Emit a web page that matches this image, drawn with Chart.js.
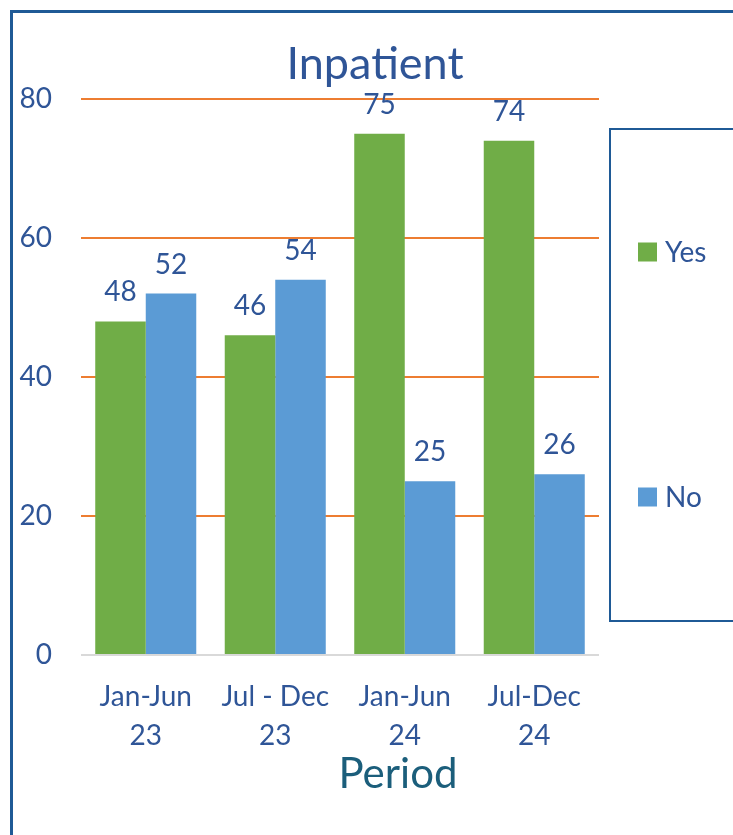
<!DOCTYPE html>
<html><head><meta charset="utf-8">
<script src="https://cdn.jsdelivr.net/npm/chart.js@4.4.1/dist/chart.umd.min.js"></script>
<style>
html,body{margin:0;padding:0;background:#fff;overflow:hidden;width:733px;height:835px}
#frame{position:absolute;left:10px;top:10px;width:800px;height:900px;border-left:3px solid #1F5A96;border-top:3px solid #1F5A96;}
#wrap{position:absolute;left:0;top:0;width:733px;height:835px}
</style></head><body>
<div id="frame"></div>
<div id="wrap"><canvas id="c" width="733" height="835"></canvas></div>
<script>
const categories = [["Jan-Jun","23"],["Jul - Dec","23"],["Jan-Jun","24"],["Jul-Dec","24"]];
const seriesNames = ["Yes","No"];
const yesValues = [48,46,75,74];
const noValues = [52,54,25,26];
const yTicks = [0,20,40,60,80];
const chartTitle = "Inpatient";
const xAxisTitle = "Period";

const TEXT = '#2F5597';
const FONT = 'Lato';

const overlay = {
  id: 'overlay',
  afterDatasetsDraw(chart) {
    const ctx = chart.ctx;
    ctx.save();
    // data labels
    ctx.fillStyle = TEXT;
    ctx.font = '28px ' + FONT;
    ctx.textAlign = 'center';
    ctx.textBaseline = 'alphabetic';
    chart.data.datasets.forEach((ds, di) => {
      chart.getDatasetMeta(di).data.forEach((bar, i) => {
        ctx.fillText(String(ds.data[i]), bar.x, bar.y - 20);
      });
    });
    // title
    ctx.font = '45px ' + FONT;
    ctx.fillText(chartTitle, 375, 79);
    // x axis title
    ctx.fillStyle = '#1B5E7B';
    ctx.font = '42px ' + FONT;
    ctx.fillText(xAxisTitle, 398, 788);
    // legend box
    ctx.strokeStyle = '#1F5A96';
    ctx.lineWidth = 2;
    ctx.strokeRect(610, 129, 140, 492);
    const ys = [252, 497];
    ctx.textAlign = 'left';
    ctx.textBaseline = 'middle';
    ctx.font = '28px ' + FONT;
    chart.data.datasets.forEach((ds, di) => {
      ctx.fillStyle = ds.backgroundColor;
      ctx.fillRect(638, ys[di] - 9.5, 19, 19);
      ctx.fillStyle = TEXT;
      ctx.fillText(ds.label, 665, ys[di] + 1);
    });
    ctx.restore();
  }
};

new Chart(document.getElementById('c'), {
  type: 'bar',
  data: {
    labels: categories,
    datasets: [
      { label: seriesNames[0], data: yesValues, backgroundColor: '#70AD47' },
      { label: seriesNames[1], data: noValues, backgroundColor: '#5B9BD5' }
    ]
  },
  options: {
    responsive: false,
    devicePixelRatio: 1,
    animation: false,
    layout: { padding: { top: 99, right: 134, bottom: 0, left: 0 } },
    datasets: { bar: { categoryPercentage: 0.78, barPercentage: 1.0 } },
    plugins: { legend: { display: false }, title: { display: false }, tooltip: { enabled: false } },
    scales: {
      x: {
        grid: { display: false, drawTicks: false },
        border: { display: false },
        ticks: { color: TEXT, font: { family: FONT, size: 28, lineHeight: 1.393 }, padding: 22, maxRotation: 0, autoSkip: false },
        afterFit(s) { s.height = 180; }
      },
      y: {
        min: 0, max: 80,
        afterBuildTicks(s) { s.ticks = yTicks.map(v => ({ value: v })); },
        grid: {
          drawTicks: false,
          lineWidth: 2,
          color: c => (c.tick && c.tick.value === 0) ? '#D9D9D9' : '#ED7D31'
        },
        border: { display: false },
        ticks: { color: TEXT, font: { family: FONT, size: 28 }, padding: 29 },
        afterFit(s) { s.width = 81; }
      }
    }
  },
  plugins: [overlay]
});
</script>
</body></html>
